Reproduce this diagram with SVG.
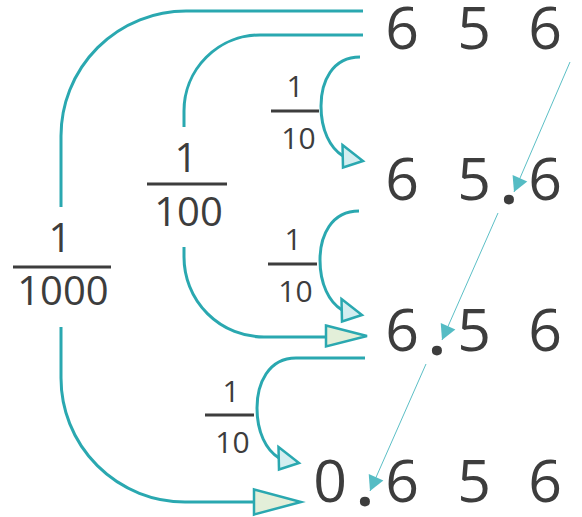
<svg xmlns="http://www.w3.org/2000/svg" width="582" height="517" viewBox="0 0 582 517">
<defs>
<style>
.num{font-family:"Open Sans","Liberation Sans",sans-serif;font-weight:400;fill:#3d3d3d;text-anchor:middle}
.big{font-size:59px}
.dot{font-weight:700}
.f10{font-size:30px}
.f100{font-size:40px}
.bar{stroke:#3d3d3d;stroke-width:3;fill:none}
.arc{stroke:#2aa8b0;stroke-width:3;fill:none}
.hs{fill:#d4eef0;stroke:#2aa8b0;stroke-width:2.5;stroke-linejoin:miter}
.hb{fill:#e3efd9;stroke:#2aa8b0;stroke-width:2.5;stroke-linejoin:miter}
.thin{stroke:#5cbfc6;stroke-width:1;fill:none}
</style>
<marker id="tip" markerUnits="userSpaceOnUse" viewBox="-16 -9 17 18" markerWidth="17" markerHeight="18" refX="0" refY="0" orient="auto">
<path d="M-15,-8 L0,0 L-15,8 z" fill="#55bcc4"/>
</marker>
</defs>
<rect width="582" height="517" fill="#ffffff"/>

<g id="row1">
<text class="num big" y="49"><tspan x="402">6</tspan><tspan x="474">5</tspan><tspan x="545">6</tspan></text>
</g>
<g id="row2">
<text class="num big" y="200"><tspan x="402">6</tspan><tspan x="474">5</tspan><tspan class="dot" x="509" y="204">.</tspan><tspan x="545" y="200">6</tspan></text>
</g>
<g id="row3">
<text class="num big" y="351"><tspan x="402">6</tspan><tspan class="dot" x="437" y="355">.</tspan><tspan x="474" y="351">5</tspan><tspan x="545">6</tspan></text>
</g>
<g id="row4">
<text class="num big" y="502"><tspan x="330">0</tspan><tspan class="dot" x="365" y="506">.</tspan><tspan x="402" y="502">6</tspan><tspan x="474">5</tspan><tspan x="545">6</tspan></text>
</g>

<g id="connectors">
<path class="arc" d="M363,11 H186 A125,125 0 0 0 61,136 V207"/>
<path class="arc" d="M61,327 V378 A124,124 0 0 0 185,502 H256"/>
<polygon class="hb" points="254,489.5 301,502 254,514.5"/>

<path class="arc" d="M363,35 H260 A76,76 0 0 0 184,111 V127"/>
<path class="arc" d="M184,247 V257 A80,80 0 0 0 264,337 H327"/>
<polygon class="hb" points="326,325.5 367,336 326,346.5"/>

<path class="arc" d="M360,57 C332,57 321,82 321,106 C321,130 330,148 343,156"/>
<polygon class="hs" points="342.5,145 363,161 343,167.5"/>

<path class="arc" d="M359,211 C331,211 320,236 320,260 C320,284 329,302 342,310"/>
<polygon class="hs" points="341.5,299 362,315 342,321.5"/>

<path class="arc" d="M365,358 H296 C268,358 257,384 257,408 C257,432 266,450 279,458"/>
<polygon class="hs" points="278.5,447 299,463 279,469.5"/>

<line class="thin" x1="570" y1="62" x2="514" y2="192" marker-end="url(#tip)"/>
<line class="thin" x1="498" y1="213" x2="442" y2="340" marker-end="url(#tip)"/>
<line class="thin" x1="426" y1="364" x2="370" y2="491" marker-end="url(#tip)"/>
</g>

<g id="frac-1000">
<text class="num f100" x="60" y="252">1</text>
<line class="bar" x1="13" y1="267" x2="111" y2="267"/>
<text class="num f100" x="63" y="305">1000</text>
</g>
<g id="frac-100">
<text class="num f100" x="186" y="172">1</text>
<line class="bar" x1="147" y1="184" x2="227" y2="184"/>
<text class="num f100" x="188.5" y="226">100</text>
</g>
<g id="frac-10a">
<text class="num f10" x="295" y="97">1</text>
<line class="bar" x1="271" y1="111" x2="319" y2="111"/>
<text class="num f10" x="298.5" y="149">10</text>
</g>
<g id="frac-10b">
<text class="num f10" x="293" y="250">1</text>
<line class="bar" x1="268" y1="264" x2="317" y2="264"/>
<text class="num f10" x="295.5" y="302">10</text>
</g>
<g id="frac-10c">
<text class="num f10" x="231" y="402">1</text>
<line class="bar" x1="205" y1="415" x2="254" y2="415"/>
<text class="num f10" x="232.5" y="453">10</text>
</g>
</svg>
